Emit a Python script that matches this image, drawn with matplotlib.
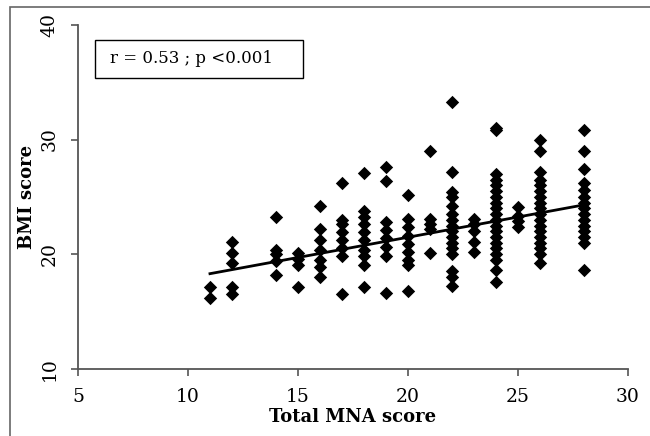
import matplotlib
matplotlib.use("Agg")
import matplotlib.pyplot as plt
import numpy as np
from matplotlib.patches import Rectangle

# Data (x = total MNA score, y = BMI score)
mna_11 = [17.1, 16.2]
mna_12 = [21.1, 20.1, 19.2, 17.1, 16.5]
mna_14 = [23.2, 20.4, 20.0, 19.4, 18.2]
mna_15 = [20.1, 19.6, 19.1, 17.1]
mna_16 = [24.2, 22.2, 21.2, 20.4, 19.5, 18.9, 18.0]
mna_17 = [26.2, 23.0, 22.6, 21.9, 21.2, 20.5, 19.8, 16.5]
mna_18 = [27.1, 23.8, 23.2, 22.6, 21.9, 21.2, 20.4, 19.8, 19.1, 17.1]
mna_19 = [27.6, 26.4, 22.8, 22.1, 21.4, 20.6, 19.8, 16.6]
mna_20 = [25.2, 23.1, 22.4, 21.6, 20.9, 20.2, 19.5, 19.1, 16.8]
mna_21 = [29.0, 23.1, 22.6, 22.2, 20.1]
mna_22 = [33.3, 27.2, 25.4, 25.0, 24.2, 23.5, 23.0, 22.5, 22.0, 21.5, 21.0,
          20.5, 20.0, 18.5, 18.0, 17.2]
mna_23 = [23.1, 22.6, 22.0, 21.1, 20.2]
mna_24 = [31.0, 30.8, 27.0, 26.5, 26.0, 25.5, 25.0, 24.5, 24.0, 23.5, 23.0,
          22.5, 22.0, 21.5, 21.0, 20.5, 20.0, 19.5, 18.6, 17.6]
mna_25 = [24.1, 23.3, 22.9, 22.4]
mna_26 = [30.0, 29.0, 27.2, 26.5, 26.0, 25.5, 25.0, 24.5, 24.0, 23.5, 23.0,
          22.5, 22.0, 21.5, 21.0, 20.5, 20.0, 19.2]
mna_28 = [30.8, 29.0, 27.4, 26.2, 25.6, 25.0, 24.5, 24.0, 23.5, 23.0, 22.5,
          22.0, 21.5, 21.0, 18.6]

mna_scores = [11, 12, 14, 15, 16, 17, 18, 19, 20, 21, 22, 23, 24, 25, 26, 28]
bmi_groups = [mna_11, mna_12, mna_14, mna_15, mna_16, mna_17, mna_18, mna_19,
              mna_20, mna_21, mna_22, mna_23, mna_24, mna_25, mna_26, mna_28]

# Linear trend line as drawn in the reference
trend_x = [11, 28]
trend_y = [18.3, 24.3]

x_ticks = [5, 10, 15, 20, 25, 30]
y_ticks = [10, 20, 30, 40]
annotation = "r = 0.53 ; p <0.001"

xs = np.concatenate([[m] * len(g) for m, g in zip(mna_scores, bmi_groups)])
ys = np.concatenate(bmi_groups)

plt.rcParams['font.family'] = ['DejaVu Serif']

fig = plt.figure(figsize=(6.5, 4.36), dpi=100)
ax = fig.add_axes([0.12, 0.154, 0.846, 0.789])

ax.scatter(xs, ys, marker='D', s=6.8 ** 2, color='black', linewidths=0, zorder=3)
ax.plot(trend_x, trend_y, color='black', lw=2, zorder=4)

ax.set_xlim(5, 30)
ax.set_ylim(10, 40)
ax.set_xticks(x_ticks)
ax.set_yticks(y_ticks)
ax.set_xticklabels([str(t) for t in x_ticks], fontsize=13.5)
ax.set_yticklabels([str(t) for t in y_ticks], fontsize=13.5, rotation=90, va='center')

for s in ['top', 'right']:
    ax.spines[s].set_visible(False)
for s in ['left', 'bottom']:
    ax.spines[s].set_color('#555555')
    ax.spines[s].set_linewidth(1.3)
ax.tick_params(direction='out', length=5, width=1.2, color='#555555')
ax.tick_params(axis='x', pad=9)
ax.tick_params(axis='y', pad=9)

ax.set_xlabel("Total MNA score", fontsize=13, fontweight='bold', labelpad=1)
ax.set_ylabel("BMI score", fontsize=13, fontweight='bold')
ax.yaxis.set_label_coords(-0.076, 0.5)

# annotation box
ax.add_patch(Rectangle((0.031, 0.846), 0.378, 0.110, transform=ax.transAxes,
                       facecolor='white', edgecolor='black', lw=1, zorder=5))
ax.text(0.058, 0.901, annotation, transform=ax.transAxes, fontsize=12,
        ha='left', va='center', zorder=6)

# outer frame (top and left edges visible)
fig.patches.append(Rectangle((10 / 650, -0.1), 1.2, 1 - 7 / 436 + 0.1,
                             transform=fig.transFigure, fill=False,
                             edgecolor='#666666', lw=1.2))

fig.savefig("out.png", dpi=100)
